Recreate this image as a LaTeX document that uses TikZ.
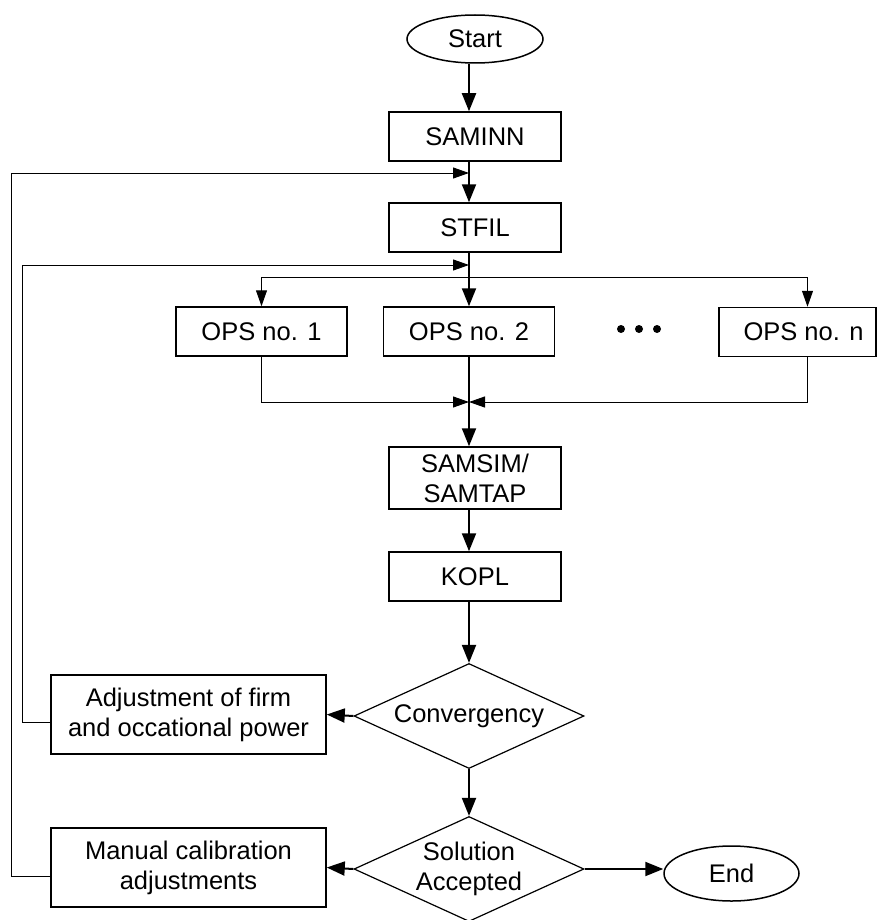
\documentclass[tikz,border=0pt]{standalone}
\usepackage{fontspec}
\setmainfont{Liberation Sans}
\usetikzlibrary{shapes.geometric,arrows.meta}

\begin{document}
\begin{tikzpicture}[x=0.5pt, y=-0.5pt, font=\fontsize{12.75}{15}\selectfont,
		kasten/.style={draw, line width=0.75pt, minimum width=86pt, minimum height=24.5pt, inner sep=0pt, align=center},
		oval/.style={draw, ellipse, line width=0.75pt, minimum width=68pt, minimum height=24pt, inner sep=0pt},
		raute/.style={draw, diamond, aspect=2.2, line width=0.6pt, minimum width=115pt, minimum height=52.5pt, inner sep=0pt, align=center},
		flow/.style={line width=1pt, -{Triangle[length=9pt,width=7pt]}},
		rueck/.style={line width=0.5pt, -{Triangle[length=8pt,width=5.5pt]}},
		duenn/.style={line width=0.5pt}]
			%Bildbereich
			\useasboundingbox (0,0) rectangle (878,920);
			% Kaesten zeichnen
			\node[oval] (start) at (475,39) {Start};
			\node[kasten] (saminn) at (475,136.5) {SAMINN};
			\node[kasten] (stfil) at (475,227.5) {STFIL};
			\node[kasten, minimum width=85.5pt] (ops1) at (261.5,331.5) {OPS no. 1};
			\node[kasten, minimum width=85.5pt] (ops2) at (469,331.5) {OPS no. 2};
			\node[kasten, minimum width=78.5pt] (opsn) at (797.5,332) {\hspace*{6pt}OPS no. n};
			\node[kasten, minimum height=31pt] (samsim) at (475,478) {SAMSIM/\\SAMTAP};
			\node[kasten] (kopl) at (475,576.5) {KOPL};
			\node[raute] (conv) at (469,716) {Convergency};
			\node[raute] (sol) at (469,869) {Solution\\Accepted};
			\node[kasten, minimum width=137.5pt, minimum height=39.5pt] (adj) at (188.5,714.5) {Adjustment of firm\\and occational power};
			\node[kasten, minimum width=137.5pt, minimum height=39.5pt] (man) at (188.5,867.5) {Manual calibration\\adjustments};
			\node[oval, minimum width=67.5pt, minimum height=27.5pt] (ende) at (731.5,873.5) {End};
			% Punkte
			\foreach \x in {621,639,657} \fill (\x,329) circle (2pt);
			% Hilfspunkte
			\coordinate (achse) at (469,0);
			\coordinate (r1) at (469,173);
			\coordinate (r2) at (469,265);
			\coordinate (verteil) at (469,277);
			\coordinate (sammel) at (469,402);
			\coordinate (nx) at ([xshift=5pt]opsn.north);
			% Hauptpfad
			\draw[flow] (start.south -| achse) -- (saminn.north -| achse);
			\draw[flow] (saminn.south -| achse) -- (stfil.north -| achse);
			\draw[flow] (stfil.south -| achse) -- (ops2.north);
			\draw[flow] (ops2.south) -- (samsim.north -| achse);
			\draw[flow] (samsim.south -| achse) -- (kopl.north -| achse);
			\draw[flow] (kopl.south -| achse) -- (conv.north);
			\draw[flow] (conv.south) -- (sol.north);
			\draw[flow] (conv.west) -- (adj.east);
			\draw[flow] (sol.west) -- (man.east);
			\draw[flow] (sol.east) -- (sol.east -| ende.west);
			% Verteilen und Sammeln
			\draw[duenn] (verteil -| ops1) -- (verteil -| nx);
			\draw[rueck] (verteil -| ops1) -- (ops1.north);
			\draw[rueck] (verteil -| nx) -- (nx);
			\draw[rueck] (ops1.south) |- (sammel);
			\draw[rueck] (opsn.south -| nx) |- (sammel);
			% Rueckfuehrungen
			\draw[rueck] ([yshift=-4pt]adj.west) -- ++(-28,0) |- (r2);
			\draw[rueck] ([yshift=-4.5pt]man.west) -- ++(-39,0) |- (r1);
		\end{tikzpicture}
\end{document}
